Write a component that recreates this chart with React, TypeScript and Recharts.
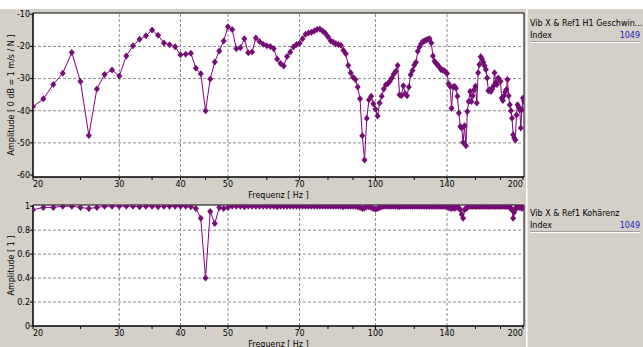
import React from 'react';
import { LineChart, Line, XAxis, YAxis, CartesianGrid, ReferenceArea, ReferenceLine } from 'recharts';

// frequency lines, 1 Hz spacing
const FREQ = [
  20, 21, 22, 23, 24, 25, 26, 27, 28, 29,
  30, 31, 32, 33, 34, 35, 36, 37, 38, 39,
  40, 41, 42, 43, 44, 45, 46, 47, 48, 49,
  50, 51, 52, 53, 54, 55, 56, 57, 58, 59,
  60, 61, 62, 63, 64, 65, 66, 67, 68, 69,
  70, 71, 72, 73, 74, 75, 76, 77, 78, 79,
  80, 81, 82, 83, 84, 85, 86, 87, 88, 89,
  90, 91, 92, 93, 94, 95, 96, 97, 98, 99,
  100, 101, 102, 103, 104, 105, 106, 107, 108, 109,
  110, 111, 112, 113, 114, 115, 116, 117, 118, 119,
  120, 121, 122, 123, 124, 125, 126, 127, 128, 129,
  130, 131, 132, 133, 134, 135, 136, 137, 138, 139,
  140, 141, 142, 143, 144, 145, 146, 147, 148, 149,
  150, 151, 152, 153, 154, 155, 156, 157, 158, 159,
  160, 161, 162, 163, 164, 165, 166, 167, 168, 169,
  170, 171, 172, 173, 174, 175, 176, 177, 178, 179,
  180, 181, 182, 183, 184, 185, 186, 187, 188, 189,
  190, 191, 192, 193, 194, 195, 196, 197, 198, 199,
  200, 201,
];

// H1 velocity FRF, dB
const AMPLITUDE_DB = [
  -38.7, -36.3, -31.8, -28.3, -21.9, -30.9, -47.7, -33.2, -28.7, -27.3,
  -29.2, -23.0, -19.8, -17.8, -16.7, -14.9, -16.5, -18.9, -19.5, -20.1,
  -22.6, -22.4, -22.1, -26.8, -28.5, -40.0, -30.1, -24.8, -21.4, -18.3,
  -13.9, -14.7, -20.7, -20.4, -17.6, -22.0, -21.7, -17.4, -18.5, -19.3,
  -19.8, -20.0, -20.7, -23.9, -25.3, -26.1, -23.1, -21.7, -20.2, -19.4,
  -19.0, -17.6, -16.2, -15.8, -15.6, -15.2, -14.7, -14.6, -15.2, -15.9,
  -17.0, -18.2, -18.7, -19.2, -19.4, -19.6, -21.2, -22.3, -25.9, -28.2,
  -29.6, -30.3, -32.6, -36.3, -47.8, -55.3, -42.3, -36.6, -35.5, -37.8,
  -39.5, -41.6, -37.6, -35.5, -33.2, -31.9, -31.6, -30.8, -29.8, -28.6,
  -27.7, -25.9, -35.0, -35.3, -32.2, -34.7, -35.3, -32.6, -28.8, -27.5,
  -25.8, -24.9, -21.5, -20.2, -19.2, -18.5, -18.3, -18.0, -17.8, -17.6,
  -18.9, -23.0, -24.6, -25.3, -25.8, -26.4, -27.2, -27.3, -27.5, -27.9,
  -28.4, -31.6, -32.4, -39.2, -32.6, -32.4, -33.0, -35.5, -40.7, -44.9,
  -45.4, -49.9, -44.7, -50.9, -40.2, -37.1, -34.0, -37.1, -35.3, -33.5,
  -32.4, -37.6, -28.2, -25.6, -23.2, -23.9, -24.9, -26.0, -27.2, -29.8,
  -33.8, -33.5, -34.0, -33.3, -32.4, -28.2, -31.2, -31.8, -29.8, -30.3,
  -30.8, -36.0, -36.8, -35.3, -34.2, -33.4, -30.3, -35.3, -38.1, -40.0,
  -42.3, -47.5, -48.5, -49.1, -41.3, -38.1, -38.8, -39.7, -45.4, -39.7,
  -36.0, -37.0,
];

// coherence
const COHERENCE = [
  0.97, 0.99, 0.99, 1.0, 1.0, 0.99, 0.98, 0.99, 1.0, 1.0,
  1.0, 1.0, 1.0, 0.995, 1.0, 1.0, 0.995, 1.0, 1.0, 1.0,
  1.0, 1.0, 0.995, 0.98, 0.9, 0.4, 0.955, 0.855, 0.99, 0.98,
  0.99, 1.0, 1.0, 1.0, 0.995, 1.0, 1.0, 1.0, 1.0, 1.0,
  1.0, 1.0, 1.0, 0.995, 1.0, 1.0, 1.0, 1.0, 1.0, 1.0,
  1.0, 1.0, 1.0, 1.0, 1.0, 1.0, 1.0, 1.0, 1.0, 1.0,
  1.0, 1.0, 1.0, 1.0, 1.0, 1.0, 0.995, 1.0, 1.0, 1.0,
  1.0, 1.0, 0.995, 0.99, 0.98, 0.985, 0.995, 0.995, 0.99, 0.98,
  0.975, 0.98, 0.99, 0.995, 1.0, 1.0, 1.0, 1.0, 1.0, 1.0,
  1.0, 1.0, 0.995, 1.0, 1.0, 1.0, 1.0, 1.0, 1.0, 1.0,
  1.0, 1.0, 1.0, 1.0, 1.0, 1.0, 1.0, 1.0, 1.0, 1.0,
  1.0, 1.0, 1.0, 1.0, 1.0, 1.0, 1.0, 1.0, 1.0, 1.0,
  0.995, 0.99, 0.985, 0.98, 0.99, 0.98, 0.99, 0.995, 0.985, 0.97,
  0.93, 0.9, 0.97, 0.98, 0.99, 1.0, 1.0, 1.0, 1.0, 1.0,
  1.0, 1.0, 1.0, 1.0, 1.0, 1.0, 1.0, 1.0, 1.0, 1.0,
  1.0, 1.0, 1.0, 1.0, 1.0, 1.0, 1.0, 1.0, 1.0, 1.0,
  1.0, 1.0, 1.0, 1.0, 1.0, 1.0, 1.0, 1.0, 0.99, 0.98,
  0.97, 0.9, 0.95, 0.98, 0.99, 0.99, 1.0, 0.99, 0.995, 0.98,
  0.99, 1.0,
];

const FREQ_TICKS = [20, 25, 30, 35, 40, 45, 50, 60, 70, 80, 90, 100, 120, 140, 160, 180, 200];
const FREQ_LABELED = [20, 30, 40, 50, 70, 100, 140, 200];
const FREQ_GRID = [30, 40, 50, 70, 100, 140];
const DB_TICKS = [-60, -50, -40, -30, -20, -10];
const DB_GRID = [-50, -40, -30, -20];
const COH_TICKS = [0, 0.2, 0.4, 0.6, 0.8, 1];
const COH_GRID = [0.2, 0.4, 0.6, 0.8];

const data = FREQ.map((f, i) => ({ f, db: AMPLITUDE_DB[i], coh: COHERENCE[i] }));

const FONT = '"DejaVu Sans", sans-serif';
const PURPLE = '#800080';
const GRAY = '#d4d0c8';
const GRID_STROKE = '#8a8a8a';

const Diamond = (props: any) => {
  const { cx, cy, index } = props;
  if (cx == null || cy == null) return <g key={index} />;
  return (
    <path
      key={index}
      d={`M${cx},${cy - 3.5}L${cx + 3},${cy}L${cx},${cy + 3.5}L${cx - 3},${cy}Z`}
      fill="#760c76"
    />
  );
};

const tickStyle = { fontSize: 8, fill: '#000', fontFamily: FONT };

// first / last frequency labels are kept inside the plot width
const FreqTick = (props: any) => {
  const { x, y, payload } = props;
  const v = payload && payload.value;
  if (!FREQ_LABELED.includes(v)) return <g />;
  const anchor = v === FREQ_LABELED[0] ? 'start' : v === FREQ_LABELED[FREQ_LABELED.length - 1] ? 'end' : 'middle';
  return (
    <text x={x} y={y} dy="0.71em" textAnchor={anchor} {...tickStyle}>
      {v}
    </text>
  );
};

interface PanelProps {
  dataKey: string;
  domain: [number, number];
  ticks: number[];
  grid: number[];
  yLabel: string;
  height: number;
}

const Panel = ({ dataKey, domain, ticks, grid, yLabel, height }: PanelProps) => (
  <LineChart width={530} height={height} data={data} margin={{ top: 13, right: 6, bottom: 0, left: 0 }}>
    <CartesianGrid horizontal={false} vertical={false} fill="#fff" fillOpacity={1} />
    <XAxis
      dataKey="f"
      type="number"
      scale="log"
      domain={[20, 201]}
      allowDataOverflow
      ticks={FREQ_TICKS}
      interval={0}
      height={23}
      tick={<FreqTick />}
      tickSize={3}
      tickMargin={1}
      stroke="#000"
      label={{ value: 'Frequenz [ Hz ]', position: 'insideBottom', offset: 2, style: { fontSize: 8, fill: '#000', fontFamily: FONT } }}
    />
    <YAxis
      type="number"
      domain={domain}
      allowDataOverflow
      ticks={ticks}
      interval={0}
      width={33}
      tick={tickStyle}
      tickSize={3}
      tickMargin={0}
      stroke="#000"
      label={{ value: yLabel, angle: -90, position: 'insideLeft', offset: 11, style: { fontSize: 8, fill: '#000', fontFamily: FONT, textAnchor: 'middle' } }}
    />
    {FREQ_GRID.map((v) => (
      <ReferenceLine key={`vx${v}`} x={v} stroke={GRID_STROKE} strokeDasharray="3 2" />
    ))}
    {grid.map((v) => (
      <ReferenceLine key={`hy${v}`} y={v} stroke={GRID_STROKE} strokeDasharray="3 2" />
    ))}
    <ReferenceArea x1={20} x2={201} y1={domain[0]} y2={domain[1]} fill="none" stroke="#000" strokeWidth={1} />
    <Line
      type="linear"
      dataKey={dataKey}
      stroke={PURPLE}
      strokeWidth={1}
      dot={Diamond}
      activeDot={false}
      isAnimationActive={false}
    />
  </LineChart>
);

const InfoBlock = ({ title, top }: { title: string; top: number }) => (
  <div style={{ position: 'absolute', left: 3, top, width: 110, fontFamily: FONT, fontSize: 8, color: '#000' }}>
    <div style={{ whiteSpace: 'nowrap', lineHeight: '10px' }}>{title}</div>
    <div style={{ display: 'flex', justifyContent: 'space-between', lineHeight: '10px', marginTop: 2, borderBottom: '1px solid #a0a0a0', boxShadow: '0 1px 0 #fff' }}>
      <span>Index</span>
      <span style={{ color: '#2020c0' }}>1049</span>
    </div>
  </div>
);

export default function App() {
  return (
    <div style={{ position: 'absolute', left: 0, top: 0, width: 643, height: 347, background: GRAY, overflow: 'hidden' }}>
      <div style={{ position: 'absolute', left: 0, top: 0, width: 643, height: 9, background: '#fff' }} />
      <div style={{ position: 'absolute', left: 0, top: 192 }}>
        <Panel dataKey="coh" domain={[0, 1.01]} ticks={COH_TICKS} grid={COH_GRID} yLabel="Amplitude [ 1 ]" height={157} />
      </div>
      <div style={{ position: 'absolute', left: 0, top: 0 }}>
        <Panel dataKey="db" domain={[-60.6, -9.6]} ticks={DB_TICKS} grid={DB_GRID} yLabel="Amplitude [ 0 dB = 1 m/s / N ]" height={200} />
      </div>
      <div style={{ position: 'absolute', left: 526, top: 9, width: 117, height: 338, borderLeft: '1px solid #fff', boxShadow: 'inset 1px 0 0 #e8e6e0' }}>
        <InfoBlock title="Vib X & Ref1 H1 Geschwin..." top={10} />
        <InfoBlock title="Vib X & Ref1 Kohärenz" top={200} />
      </div>
    </div>
  );
}
